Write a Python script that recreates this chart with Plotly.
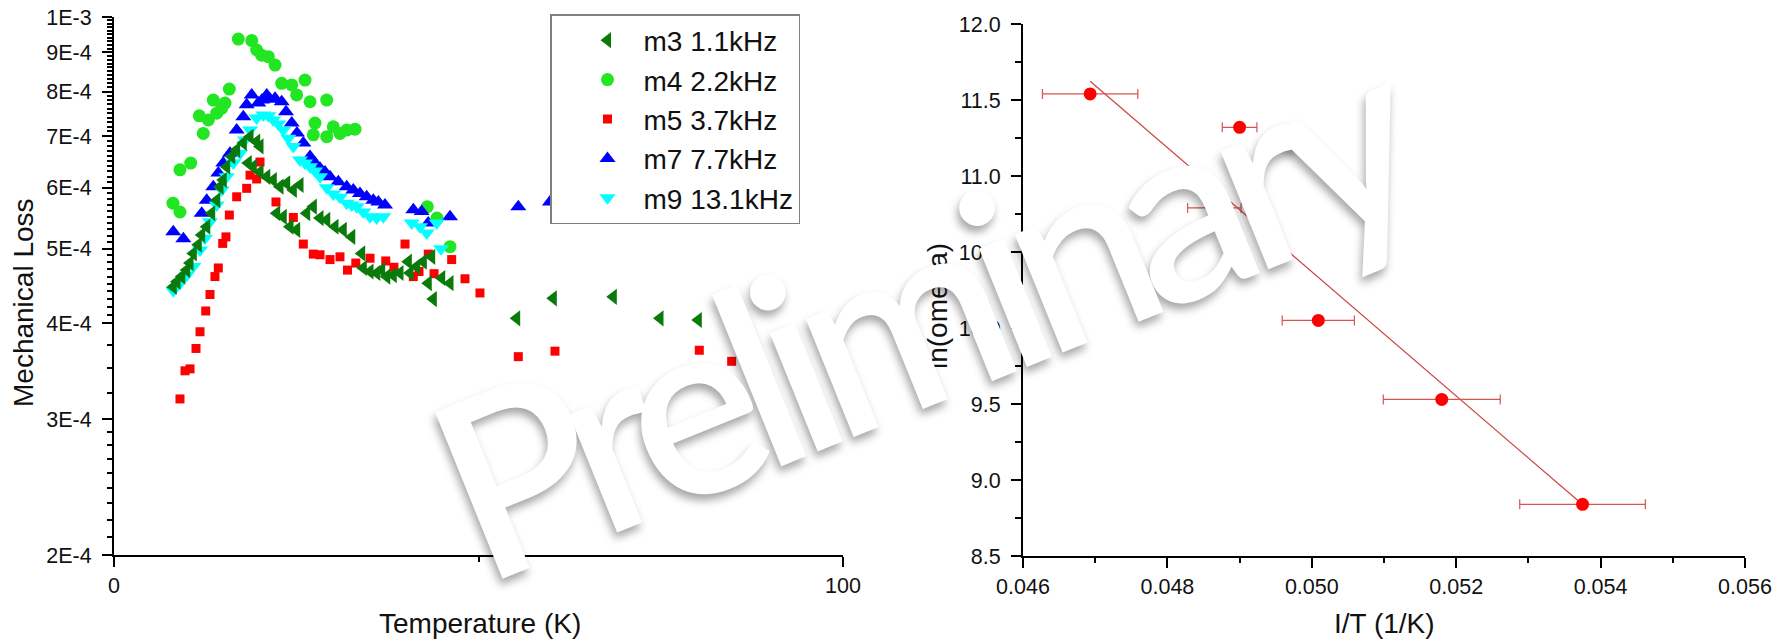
import numpy as np
import plotly.graph_objects as go

# ---------------- Mechanical loss vs temperature ----------------
# loss values are given in units of 1E-4
m3_T = [8.13, 8.64, 9.29, 9.97, 10.43, 10.88, 11.56, 12.03, 12.72, 13.40, 14.09, 14.54, 14.99, 15.46,
        16.15, 16.83, 17.74, 18.66, 19.57, 20.03, 18.42, 19.11, 20.03, 20.95, 21.85, 22.77, 23.69, 24.60,
        25.51, 22.32, 23.22, 24.14, 25.06, 26.43, 27.34, 28.26, 29.18, 30.32, 31.45, 32.61, 33.98, 34.20,
        35.12, 36.04, 36.72, 37.41, 38.31, 39.23, 40.37, 41.52, 42.43, 43.58, 40.60, 43.11, 44.95, 46.09,
        43.80, 55.24, 60.26, 68.49, 74.90, 80.15]
m3_loss_e4 = [4.46, 4.53, 4.60, 4.69, 4.79, 4.93, 5.06, 5.21, 5.34, 5.56, 5.78, 6.02, 6.14, 6.39,
              6.59, 6.72, 6.86, 6.99, 6.89, 6.79, 6.46, 6.39, 6.29, 6.20, 6.14, 6.02, 6.08, 5.96,
              6.05, 5.56, 5.50, 5.34, 5.29, 5.56, 5.67, 5.48, 5.45, 5.34, 5.29, 5.18, 4.93, 4.72,
              4.67, 4.65, 4.69, 4.60, 4.62, 4.65, 4.81, 4.74, 4.81, 4.88, 4.65, 4.51, 4.58, 4.51,
              4.30, 4.06, 4.31, 4.33, 4.06, 4.04]

m4_T = [8.09, 9.05, 9.05, 10.52, 11.70, 12.25, 12.94, 13.62, 14.09, 14.77, 15.23, 15.82, 17.05, 18.89,
        19.57, 20.26, 21.17, 22.09, 23.00, 24.38, 25.06, 26.20, 26.89, 29.18, 27.57, 27.34, 29.18, 30.08,
        31.00, 31.92, 33.06, 42.98, 46.09, 44.30]
m4_loss_e4 = [5.73, 5.58, 6.33, 6.46, 7.44, 7.06, 7.35, 7.80, 7.50, 7.61, 7.73, 8.06, 9.36, 9.32,
              9.06, 8.92, 8.88, 8.66, 8.20, 8.16, 7.92, 8.28, 7.76, 7.80, 7.28, 7.03, 6.99, 7.20,
              7.06, 7.13, 7.15, 5.67, 5.03, 5.48]

m5_T = [9.05, 9.74, 10.43, 11.25, 11.80, 12.58, 13.17, 13.85, 14.31, 14.91, 15.36, 15.82, 16.83, 18.20,
        18.66, 19.57, 20.03, 22.22, 24.60, 25.97, 27.34, 28.26, 29.63, 31.00, 32.03, 33.17, 35.12, 37.28,
        38.40, 39.92, 41.06, 41.84, 43.11, 43.90, 46.32, 48.15, 50.20, 55.46, 60.49, 80.29, 84.73]
m5_loss_e4 = [3.19, 3.47, 3.49, 3.71, 3.90, 4.15, 4.36, 4.60, 4.72, 5.08, 5.18, 5.53, 5.84, 5.99,
              6.23, 6.16, 6.48, 5.75, 5.49, 5.07, 4.92, 4.91, 4.84, 4.88, 4.69, 4.79, 4.86, 4.82,
              4.73, 5.07, 4.60, 4.67, 4.92, 4.64, 4.84, 4.57, 4.38, 3.62, 3.68, 3.69, 3.57]

m7_T = [8.13, 9.51, 12.03, 12.72, 13.62, 14.31, 14.99, 15.91, 16.83, 17.74, 18.20, 18.89, 19.79, 20.30,
        20.95, 21.40, 22.09, 23.00, 23.60, 24.38, 25.10, 25.97, 26.89, 27.57, 28.26, 28.94, 29.63, 30.77,
        31.92, 32.83, 33.74, 34.66, 35.57, 36.26, 37.17, 41.06, 42.20, 43.10, 46.09, 55.46, 59.80]
m7_loss_e4 = [5.26, 5.15, 5.56, 5.78, 6.02, 6.27, 6.46, 6.65, 7.13, 7.42, 7.69, 7.92, 7.73, 7.80,
              7.92, 7.82, 7.84, 7.76, 7.53, 7.28, 7.07, 6.86, 6.59, 6.46, 6.36, 6.29, 6.20, 6.11,
              6.02, 5.96, 5.90, 5.84, 5.78, 5.75, 5.70, 5.62, 5.59, 5.40, 5.50, 5.67, 5.75]

m9_T = [8.13, 9.05, 9.97, 10.88, 11.80, 12.48, 13.17, 14.09, 14.77, 15.46, 16.37, 17.28, 17.97, 18.66,
        19.57, 20.48, 21.17, 21.85, 22.54, 23.22, 23.91, 24.60, 25.51, 26.20, 26.89, 27.57, 28.26, 29.18,
        30.08, 31.00, 31.92, 32.61, 33.29, 34.20, 35.12, 36.04, 36.94, 40.84, 41.98, 42.89, 44.27, 44.86]
m9_loss_e4 = [4.41, 4.51, 4.62, 4.74, 4.98, 5.16, 5.42, 5.70, 5.96, 6.20, 6.46, 6.65, 6.92, 7.13,
              7.39, 7.46, 7.44, 7.35, 7.26, 7.13, 6.96, 6.79, 6.52, 6.46, 6.39, 6.31, 6.20, 6.00,
              5.89, 5.83, 5.73, 5.70, 5.67, 5.58, 5.50, 5.48, 5.50, 5.40, 5.34, 5.24, 5.40, 5.00]

loss_tickvals_e4 = [2, 3, 4, 5, 6, 7, 8, 9, 10]
loss_ticktext = ["2E-4", "3E-4", "4E-4", "5E-4", "6E-4", "7E-4", "8E-4", "9E-4", "1E-3"]

# ---------------- Arrhenius plot ----------------
inv_T = [0.04693, 0.04900, 0.04865, 0.05009, 0.05180, 0.05375]
inv_T_err = [0.00066, 0.00024, 0.00037, 0.00050, 0.00081, 0.00087]
ln_omega = [11.54, 11.32, 10.79, 10.05, 9.53, 8.84]
fit_slope = -408.4
fit_intercept = 30.79

W, H = 1785, 640
FONT = "Liberation Sans, Arial, sans-serif"

series = [
    # name, T, loss, symbol, colour, size, legend rank
    ("m4 2.2kHz", m4_T, m4_loss_e4, "circle", "#22e622", 13, 2),
    ("m5 3.7kHz", m5_T, m5_loss_e4, "square", "#ff0000", 9, 3),
    ("m7 7.7kHz", m7_T, m7_loss_e4, "triangle-up", "#0000ff", 14, 4),
    ("m9 13.1kHz", m9_T, m9_loss_e4, "triangle-down", "#00ffff", 14, 5),
    ("m3 1.1kHz", m3_T, m3_loss_e4, "triangle-left", "#0a7a0a", 14, 1),
]

fig = go.Figure()
for name, T, loss, sym, col, size, rank in series:
    fig.add_trace(go.Scatter(
        x=T, y=np.array(loss) * 1e-4, mode="markers", name=name, legendrank=rank,
        marker=dict(symbol=sym, color=col, size=size, line=dict(width=0)),
        xaxis="x", yaxis="y",
    ))

fit_x = np.array([inv_T[0], inv_T[-1]])
fig.add_trace(go.Scatter(
    x=fit_x, y=fit_intercept + fit_slope * fit_x, mode="lines",
    line=dict(color="#c8433f", width=1.2), showlegend=False, xaxis="x2", yaxis="y2",
))
fig.add_trace(go.Scatter(
    x=inv_T, y=ln_omega, mode="markers", showlegend=False,
    marker=dict(symbol="circle", color="#ff0000", size=13),
    error_x=dict(type="data", array=inv_T_err, visible=True, color="#d9534f", thickness=1.2, width=5),
    xaxis="x2", yaxis="y2",
))

# minor tick positions on the log axis
minor_e4 = [2 + k / 9 for k in range(1, 9)] + [3.25, 3.5, 3.75]
for base in range(4, 10):
    minor_e4 += [base + k / 10 for k in range(1, 10)]
minor_vals = [v * 1e-4 for v in minor_e4]

axis_common = dict(
    showline=True, linecolor="black", linewidth=2, mirror=False, automargin=False,
    showgrid=False, zeroline=False, ticks="outside", ticklen=10, tickwidth=2,
    tickcolor="black", tickfont=dict(family=FONT, size=21.5, color="#111"),
)

fig.update_layout(
    width=W, height=H, margin=dict(l=0, r=0, t=0, b=0, autoexpand=False),
    paper_bgcolor="white", plot_bgcolor="white",
    xaxis=dict(domain=[114 / W, 843 / W], range=[0, 100], tickvals=[0, 100], ticktext=["0", "100"],
               minor=dict(tickvals=[50], ticklen=5, tickwidth=2, ticks="outside", tickcolor="black"),
               anchor="y", **axis_common),
    yaxis=dict(domain=[85 / H, 623 / H], type="log", range=[np.log10(2e-4), -3],
               tickvals=[v * 1e-4 for v in loss_tickvals_e4], ticktext=loss_ticktext,
               minor=dict(tickvals=minor_vals, ticklen=5, tickwidth=1.5, ticks="outside", tickcolor="black"),
               anchor="x", ticklabelstandoff=6, **axis_common),
    xaxis2=dict(domain=[1023 / W, 1745 / W], range=[0.046, 0.056], dtick=0.002, tick0=0.046,
                tickformat=".3f",
                minor=dict(dtick=0.001, tick0=0.046, ticklen=5, tickwidth=2, ticks="outside", tickcolor="black"),
                anchor="y2", **axis_common),
    yaxis2=dict(domain=[84 / H, 616 / H], range=[8.5, 12.0], dtick=0.5, tick0=8.5, tickformat=".1f",
                minor=dict(dtick=0.25, tick0=8.5, ticklen=6, tickwidth=2, ticks="outside", tickcolor="black"),
                anchor="x2", ticklabelstandoff=6, **axis_common),
    legend=dict(x=550 / W, y=1 - 14 / H, xanchor="left", yanchor="top",
                bgcolor="white", bordercolor="#808080", borderwidth=1.5,
                font=dict(family=FONT, size=28, color="#111"), itemwidth=62, indentation=20,
                traceorder="normal"),
    showlegend=True,
)

title_font = dict(family=FONT, size=28, color="#111")
for txt, px, py, ang in [("Temperature (K)", 480, 623, 0), ("Mechanical Loss", 23, 303, -90),
                         ("I/T (1/K)", 1384, 623, 0), ("ln(omega)", 937, 306, -90)]:
    fig.add_annotation(text=txt, x=px / W, y=1 - py / H, xref="paper", yref="paper",
                       xanchor="center", yanchor="middle", showarrow=False,
                       textangle=ang, font=title_font)

# draft stamp across both panels
fig.add_annotation(text='<span style="letter-spacing:-22px">Preliminary</span>',
                   x=924 / W, y=1 - 304 / H, xref="paper", yref="paper",
                   xanchor="center", yanchor="middle", showarrow=False, textangle=-22,
                   font=dict(family="Lato, Open Sans, sans-serif", size=250, color="white", weight=600,
                             shadow="-4px 5px 8px rgba(0,0,0,0.35)"))

fig.write_html("out.html")
